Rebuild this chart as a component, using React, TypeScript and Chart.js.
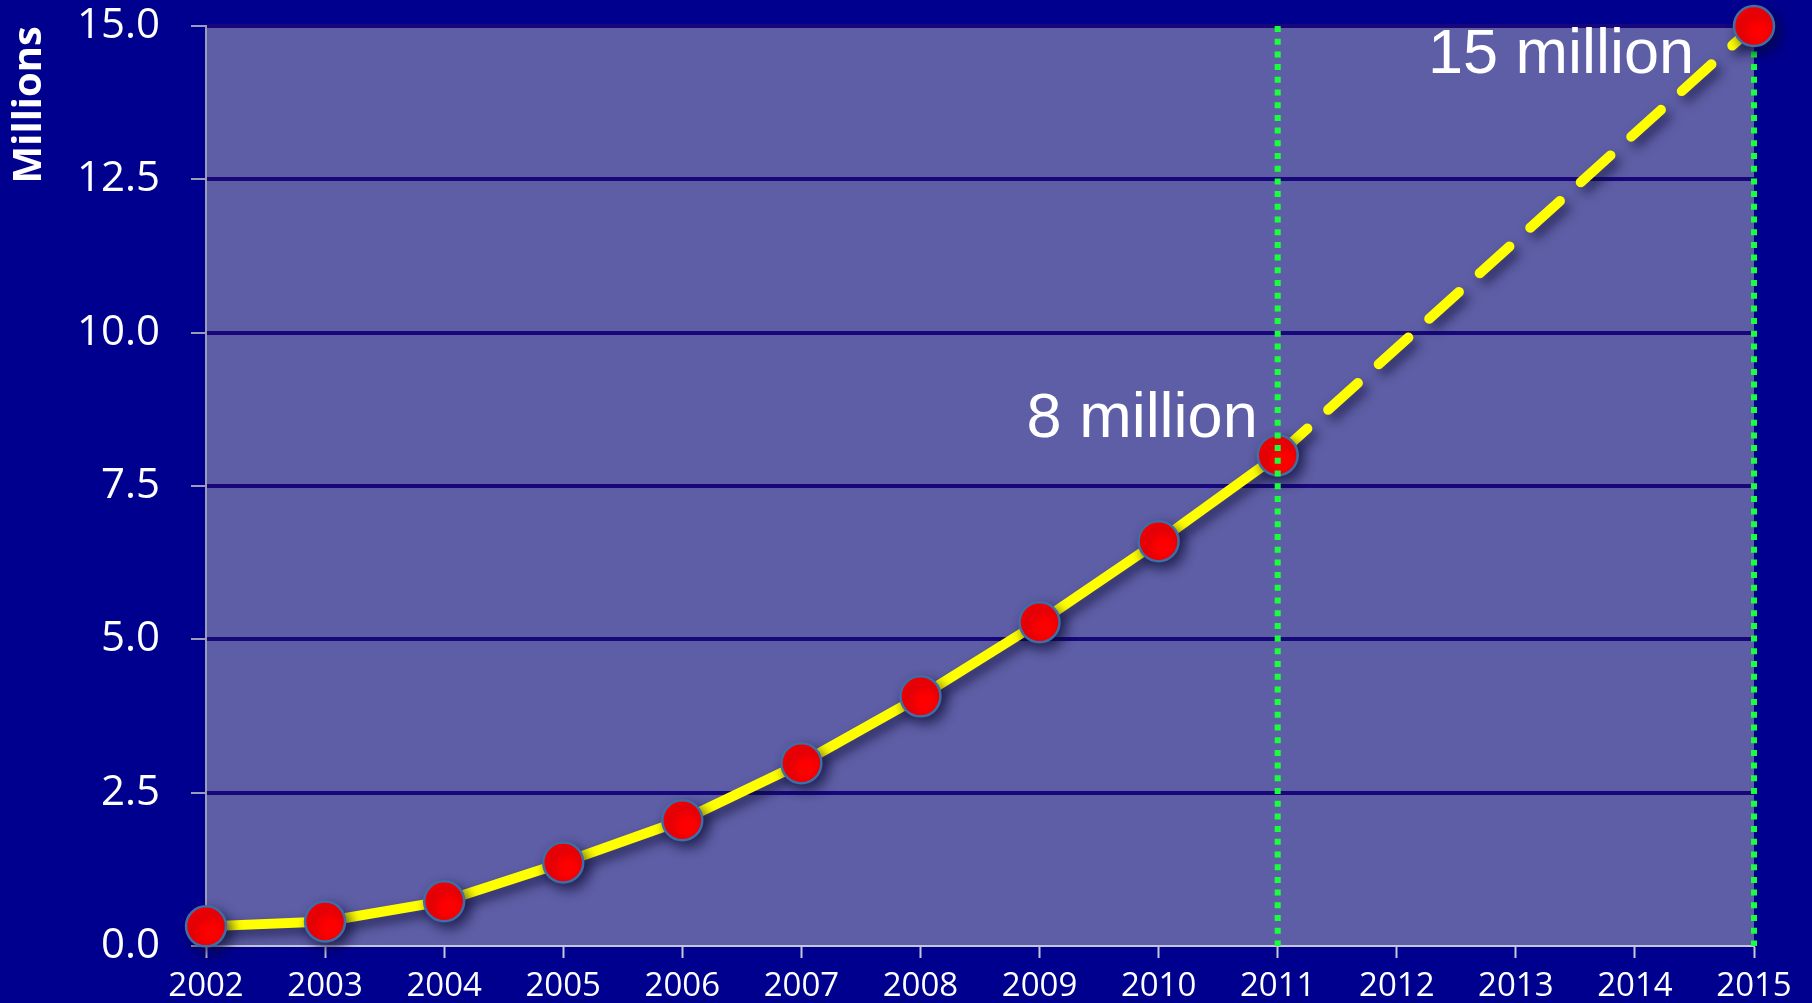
import { useEffect, useRef } from "react";
import { Chart, registerables } from "chart.js";

Chart.register(...registerables);

// ---- Data ----
const years = ["2002", "2003", "2004", "2005", "2006", "2007", "2008", "2009", "2010", "2011", "2012", "2013", "2014", "2015"];
const actualMillions = [0.32, 0.4, 0.73, 1.36, 2.05, 2.98, 4.07, 5.28, 6.6, 8.0, null, null, null, null];
const projectedMillions = [null, null, null, null, null, null, null, null, null, 8.0, null, null, null, 15.0];
const yAxisMin = 0;
const yAxisMax = 15;
const yAxisStep = 2.5;
const yAxisTitle = "Millions";
const calloutYears = ["2011", "2015"];
const calloutTexts = ["8 million", "15 million"];

const BG = "#00008f";
const PLOT_BG = "#5e5ea6";
const GRID = "#17077a";
const GREEN = "#1aff3c";
const TICK_FONT = "'Open Sans', 'Noto Sans', sans-serif";

export default function App() {
  const canvasRef = useRef<HTMLCanvasElement | null>(null);

  useEffect(() => {
    const canvas = canvasRef.current;
    if (!canvas) return;

    const drawGreen = (chart: any, year: string) => {
      const { ctx, chartArea: a } = chart;
      const x = chart.scales.x.getPixelForValue(years.indexOf(year));
      ctx.save();
      ctx.strokeStyle = GREEN;
      ctx.lineWidth = 6;
      ctx.setLineDash([6, 6.7]);
      ctx.beginPath();
      ctx.moveTo(x, a.top);
      ctx.lineTo(x, a.bottom);
      ctx.stroke();
      ctx.restore();
    };

    const decor = {
      id: "decor",
      beforeDraw(chart: any) {
        const { ctx, chartArea: a, width, height } = chart;
        ctx.save();
        ctx.fillStyle = BG;
        ctx.fillRect(0, 0, width, height);
        ctx.fillStyle = PLOT_BG;
        ctx.fillRect(a.left, a.top, a.right - a.left, a.bottom - a.top);
        ctx.restore();
      },
      beforeDatasetsDraw(chart: any) {
        drawGreen(chart, calloutYears[1]);
        const { ctx } = chart;
        ctx.save();
        ctx.shadowColor = "rgba(10, 10, 50, 0.65)";
        ctx.shadowBlur = 12;
        ctx.shadowOffsetX = 5;
        ctx.shadowOffsetY = 6;
      },
      afterDatasetsDraw(chart: any) {
        const { ctx } = chart;
        ctx.restore();
        drawGreen(chart, calloutYears[0]);
        const xs = chart.scales.x;
        const ys = chart.scales.y;
        ctx.save();
        ctx.fillStyle = "#ffffff";
        ctx.font = "63px 'Liberation Sans', Arial, sans-serif";
        ctx.textAlign = "right";
        ctx.textBaseline = "middle";
        const i0 = years.indexOf(calloutYears[0]);
        const x0 = xs.getPixelForValue(i0);
        const y0 = ys.getPixelForValue(actualMillions[i0] as number);
        ctx.fillText(calloutTexts[0], x0 - 20, y0 - 36);
        const i1 = years.indexOf(calloutYears[1]);
        const x1 = xs.getPixelForValue(i1);
        const y1 = ys.getPixelForValue(projectedMillions[i1] as number);
        ctx.fillText(calloutTexts[1], x1 - 60, y1 + 30);
        ctx.restore();
      },
    };

    const chart = new Chart(canvas, {
      type: "line",
      data: {
        labels: years,
        datasets: [
          {
            label: "Actual",
            data: actualMillions,
            borderColor: "#ffff00",
            borderWidth: 10,
            backgroundColor: "#ff0000",
            pointBackgroundColor: "#ff0000",
            pointBorderColor: "#3d6ea8",
            pointBorderWidth: 2.5,
            pointRadius: 20,
            pointHoverRadius: 20,
            tension: 0,
            clip: false,
            order: 0,
          },
          {
            label: "Projected",
            data: projectedMillions,
            spanGaps: true,
            borderColor: "#ffff00",
            borderWidth: 10,
            borderDash: [40, 28],
            borderCapStyle: "round",
            backgroundColor: "#ff0000",
            pointBackgroundColor: "#ff0000",
            pointBorderColor: "#3d6ea8",
            pointBorderWidth: 2.5,
            pointRadius: (c: any) => (c.dataIndex === years.length - 1 ? 20 : 0),
            pointHoverRadius: 20,
            tension: 0,
            clip: false,
            order: 1,
          },
        ],
      },
      options: {
        responsive: false,
        animation: false,
        devicePixelRatio: 1,
        layout: { padding: { top: 26, right: 58, left: 0, bottom: 0 } },
        plugins: {
          legend: { display: false },
          tooltip: { enabled: false },
        },
        scales: {
          x: {
            type: "category",
            offset: false,
            afterFit: (s: any) => {
              s.height = 57;
              s.paddingLeft = 0;
              s.paddingRight = 0;
            },
            border: { display: true, color: "#c6c6da", width: 2 },
            grid: {
              drawOnChartArea: false,
              drawTicks: true,
              tickLength: 12,
              tickColor: "#c6c6da",
              tickWidth: 2,
            },
            ticks: {
              color: "#ffffff",
              padding: 9,
              maxRotation: 0,
              autoSkip: false,
              font: { family: TICK_FONT, size: 33 },
            },
          },
          y: {
            min: yAxisMin,
            max: yAxisMax,
            afterFit: (s: any) => {
              s.width = 206;
              s.paddingTop = 0;
              s.paddingBottom = 0;
            },
            border: { display: true, color: "#9c9cb6", width: 2 },
            grid: {
              color: (c: any) => (c.tick && c.tick.value === 0 ? "rgba(0,0,0,0)" : GRID),
              lineWidth: 4,
              drawTicks: true,
              tickLength: 15,
              tickColor: "#9c9cb6",
              tickWidth: 2,
            },
            ticks: {
              stepSize: yAxisStep,
              color: "#ffffff",
              padding: 31,
              font: { family: TICK_FONT, size: 42 },
              callback: (v: any) => Number(v).toFixed(1),
            },
            title: {
              display: true,
              text: yAxisTitle,
              align: "end",
              color: "#ffffff",
              padding: { top: 6, bottom: 0 },
              font: { family: TICK_FONT, size: 40, weight: "bold" },
            },
          },
        },
      },
      plugins: [decor],
    } as any);

    return () => chart.destroy();
  }, []);

  return (
    <div style={{ position: "fixed", left: 0, top: 0, width: 1812, height: 1003, background: BG }}>
      <canvas ref={canvasRef} width={1812} height={1003} style={{ display: "block", width: 1812, height: 1003 }} />
    </div>
  );
}
